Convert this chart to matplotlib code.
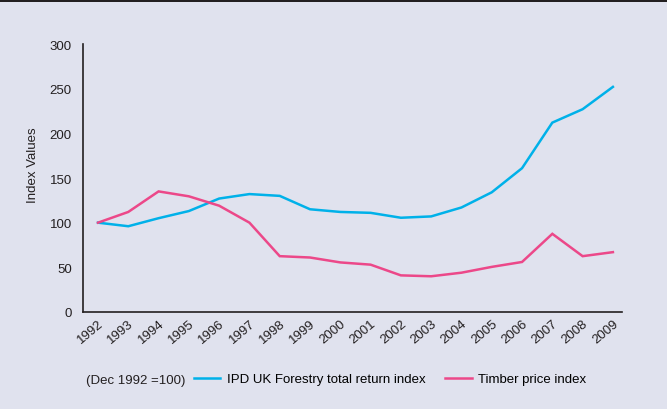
import matplotlib
matplotlib.use("Agg")
import matplotlib.pyplot as plt
from matplotlib.patches import Rectangle
from matplotlib.transforms import ScaledTranslation

plt.rcParams['font.family'] = ['Liberation Sans', 'DejaVu Sans']

years = list(range(1992, 2010))
ipd_forestry = [100, 96, 105, 113, 127, 132, 130, 115, 112, 111, 105.5, 107,
                117, 134, 161, 212, 227, 252]
timber_price = [100, 112, 135, 129.5, 119, 100, 62.5, 61, 55.5, 53, 41, 40,
                44, 50.5, 56, 87.5, 62.5, 67]
y_ticks = [0, 50, 100, 150, 200, 250, 300]

bg = '#e0e2ee'
blue = '#00b1e9'
pink = '#ec4889'
dark = '#231f20'
fs = 9.5

fig = plt.figure(figsize=(6.67, 4.10), dpi=100, facecolor=bg)
fig.patches.append(Rectangle((0, 1 - 3 / 410), 1, 3 / 410, transform=fig.transFigure,
                             facecolor=dark, edgecolor='none', zorder=10))

ax = fig.add_axes([83 / 667, 1 - 313 / 410, 539 / 667, 268 / 410])
ax.set_facecolor(bg)

l1, = ax.plot(years, ipd_forestry, color=blue, lw=1.8, solid_joinstyle='miter',
              label='IPD UK Forestry total return index')
l2, = ax.plot(years, timber_price, color=pink, lw=1.8, solid_joinstyle='miter',
              label='Timber price index')

ax.set_xlim(1991.505, 2009.3)
ax.set_ylim(0, 300)
ax.set_yticks(y_ticks)
ax.set_xticks(years)
ax.set_xticklabels([str(y) for y in years], rotation=40, ha='right',
                   rotation_mode='anchor')
offset = ScaledTranslation(9 / 100, -2 / 100, fig.dpi_scale_trans)
for lab in ax.get_xticklabels():
    lab.set_transform(lab.get_transform() + offset)

ax.tick_params(axis='both', length=0, labelsize=fs, colors='#231f20')
ax.tick_params(axis='y', pad=8)
ax.tick_params(axis='x', pad=4)

for s in ['top', 'right']:
    ax.spines[s].set_visible(False)
for s in ['left', 'bottom']:
    ax.spines[s].set_color(dark)
    ax.spines[s].set_linewidth(1.2)

fig.text(33 / 667, 1 - 165 / 410, 'Index Values', rotation=90, ha='center',
         va='center', fontsize=fs, color=dark)

fig.text(86 / 667, 1 - 381 / 410, '(Dec 1992 =100)', ha='left', va='center',
         fontsize=fs, color=dark)
fig.legend(handles=[l1, l2], loc='center left',
           bbox_to_anchor=(194 / 667, 1 - 380 / 410), ncol=2, frameon=False,
           fontsize=fs, handlelength=2.0, handletextpad=0.5, columnspacing=1.5,
           borderpad=0, borderaxespad=0)

fig.savefig('out.png', dpi=100, facecolor=bg)
